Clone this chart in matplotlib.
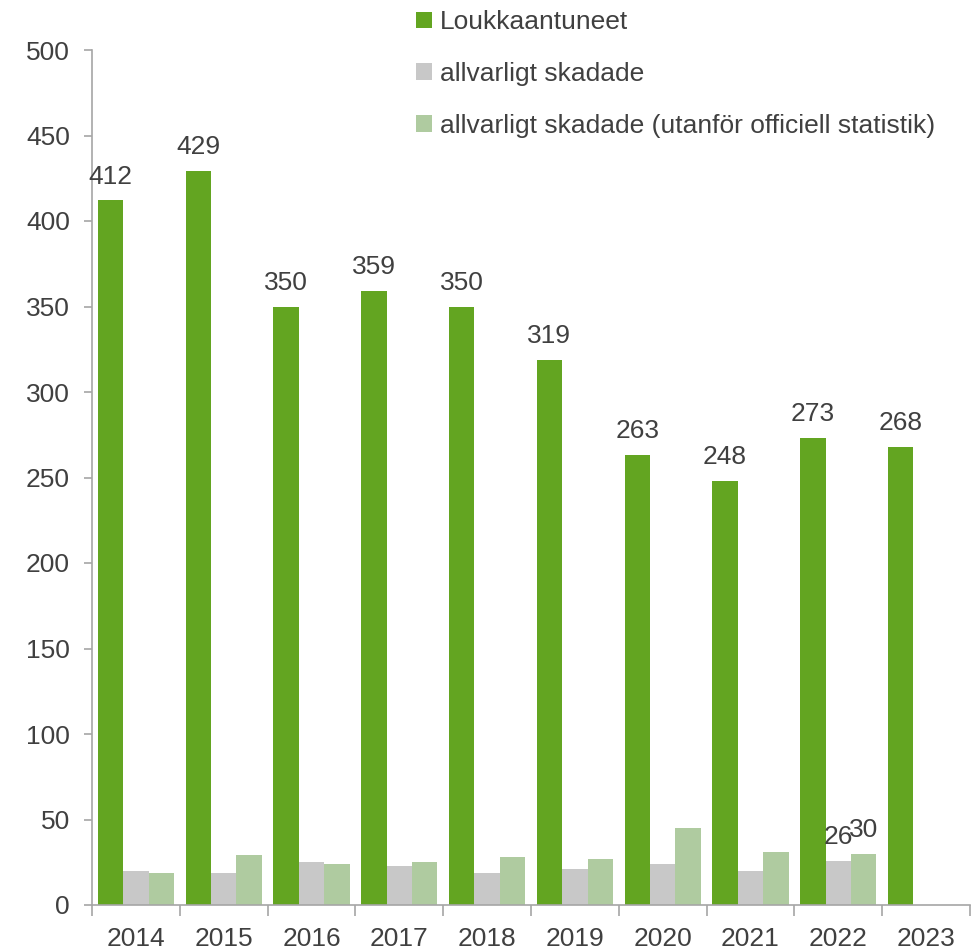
import numpy as np
from matplotlib import pyplot as plt

plt.rcParams['font.family'] = ['Liberation Sans', 'DejaVu Sans']

years = ["2014", "2015", "2016", "2017", "2018", "2019", "2020", "2021", "2022", "2023"]
loukkaantuneet = [412, 429, 350, 359, 350, 319, 263, 248, 273, 268]
allvarligt = [20, 19, 25, 23, 19, 21, 24, 20, 26, np.nan]
utanfor = [19, 29, 24, 25, 28, 27, 45, 31, 30, np.nan]

labels = ["Loukkaantuneet", "allvarligt skadade",
          "allvarligt skadade (utanför officiell statistik)"]
colors = ["#63a521", "#c8c8c8", "#afcba0"]
txt = "#404040"
axcol = "#a6a6a6"
fs = 19

fig = plt.figure(figsize=(9.74, 9.51), dpi=100)
ax = fig.add_axes([92 / 974, 46 / 951, 878 / 974, 855 / 951])

x = np.arange(len(years))
w = 0.29
b1 = ax.bar(x - w, loukkaantuneet, w, color=colors[0], label=labels[0])
b2 = ax.bar(x, allvarligt, w, color=colors[1], label=labels[1])
b3 = ax.bar(x + w, utanfor, w, color=colors[2], label=labels[2])

for xi, v in zip(x, loukkaantuneet):
    ax.text(xi - w, v + 7, str(v), ha="center", va="bottom", fontsize=fs, color=txt)
# only 2022 small bars are labelled
ax.text(x[8], allvarligt[8] + 7, str(allvarligt[8]), ha="center", va="bottom", fontsize=fs, color=txt)
ax.text(x[8] + w, utanfor[8] + 7, str(utanfor[8]), ha="center", va="bottom", fontsize=fs, color=txt)

ax.set_xlim(-0.5, len(years) - 0.5)
ax.set_ylim(0, 500)
ax.set_yticks(np.arange(0, 501, 50))
ax.set_xticks(x)
ax.set_xticklabels(years)
ax.set_xticks(np.arange(-0.5, len(years), 1), minor=True)
ax.tick_params(axis="x", which="major", length=0, pad=16, labelsize=fs, labelcolor=txt)
ax.tick_params(axis="x", which="minor", length=8, color=axcol, width=1.2)
ax.tick_params(axis="y", length=6, color=axcol, width=1.2, labelsize=fs, labelcolor=txt, pad=10)

for s in ["top", "right"]:
    ax.spines[s].set_visible(False)
for s in ["left", "bottom"]:
    ax.spines[s].set_color(axcol)
    ax.spines[s].set_linewidth(1.2)

fig.legend(handles=[b1, b2, b3], loc="upper left", bbox_to_anchor=(403 / 974, 1.003),
           frameon=False, fontsize=fs, labelcolor=txt, handlelength=0.6,
           handleheight=0.6, handletextpad=0.3, labelspacing=1.05, borderaxespad=0.1)

fig.savefig("out.png", dpi=100)
